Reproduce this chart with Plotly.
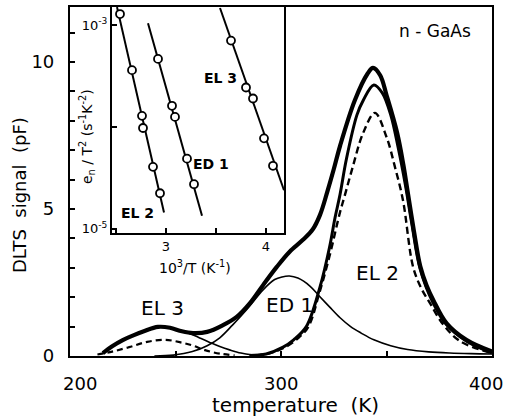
import plotly.graph_objects as go

# ---------------- main panel data (DLTS spectra) ----------------
T_meas = [215.6, 220, 225, 230, 235, 241.7, 247.4, 253, 258.3, 265, 272.5, 279, 285.3, 291.5,
          298, 304, 310.4, 315, 318.5, 322, 325, 328, 335, 341, 343.6, 347, 350.1, 355, 358, 360,
          363, 366, 369, 372.2, 378.5, 388, 400]
S_meas = [0.10, 0.33, 0.54, 0.70, 0.84, 0.99, 0.96, 0.84, 0.78, 0.82, 1.05, 1.33, 1.80, 2.41,
          3.03, 3.54, 3.95, 4.3, 4.8, 5.6, 6.35, 7.15, 8.7, 9.6, 9.8, 9.55, 8.85, 7.6, 6.5, 5.6,
          4.25, 3.05, 2.4, 1.90, 1.11, 0.54, 0.15]

T_el2 = [285, 293, 301, 306, 312, 318.5, 323, 325.6, 328, 331, 336, 339, 344, 348, 352, 355.5,
         359, 362, 366, 372, 378.5, 388, 400]
S_el2 = [0.02, 0.07, 0.30, 0.55, 1.0, 2.35, 3.7, 4.7, 5.5, 6.7, 8.2, 8.7, 9.22, 8.95, 8.2, 7.1,
         5.8, 4.5, 2.95, 1.82, 1.06, 0.5, 0.1]

T_el2d = [288, 295, 302, 308, 313, 318, 323, 328, 330, 334, 338.9, 344.5, 350, 354, 357.8,
          362.6, 366.5, 370.6, 376.8, 385, 400]
S_el2d = [0.02, 0.1, 0.3, 0.6, 1.0, 2.1, 3.4, 4.9, 5.4, 6.43, 7.58, 8.27, 7.45, 6.43, 5.3,
          3.03, 2.3, 1.8, 1.08, 0.5, 0.1]

T_ed1 = [240, 249, 258, 265, 271, 277, 284, 291.5, 297, 300.5, 304, 308, 313.7, 318, 323, 328,
         333, 338, 344, 352, 360, 370, 380, 390, 400]
S_ed1 = [0.0, 0.03, 0.15, 0.35, 0.62, 1.05, 1.6, 2.25, 2.6, 2.69, 2.72, 2.65, 2.38, 2.05, 1.67,
         1.3, 1.0, 0.78, 0.55, 0.35, 0.22, 0.14, 0.1, 0.08, 0.07]

T_el3 = [215.6, 220, 225, 230, 235, 241.7, 247.4, 253, 257, 261, 266, 271, 276, 281, 286, 292]
S_el3 = [0.10, 0.33, 0.54, 0.70, 0.84, 0.99, 0.96, 0.86, 0.76, 0.63, 0.47, 0.32, 0.2, 0.1, 0.04, 0.01]

T_el3d = [213, 220, 228, 236.5, 245, 252, 258, 264, 271, 278]
S_el3d = [0.05, 0.15, 0.30, 0.48, 0.55, 0.47, 0.36, 0.2, 0.08, 0.02]

# ---------------- inset data (Arrhenius plot) ----------------
el2_x = [2.54, 2.66, 2.76, 2.77, 2.87, 2.94]
el2_y = [1.29e-3, 3.63e-4, 1.29e-4, 9.8e-5, 4.07e-5, 2.24e-5]
el2_fit_x = [2.51, 2.98]
el2_fit_y = [1.51e-3, 1.45e-5]

ed1_x = [2.92, 3.06, 3.09, 3.21, 3.28]
ed1_y = [4.68e-4, 1.62e-4, 1.26e-4, 4.9e-5, 2.75e-5]
ed1_fit_x = [2.82, 3.36]
ed1_fit_y = [1.05e-3, 1.35e-5]

el3_x = [3.65, 3.80, 3.87, 3.98, 4.07]
el3_y = [7.08e-4, 2.45e-4, 1.91e-4, 7.76e-5, 4.17e-5]
el3_fit_x = [3.54, 4.18]
el3_fit_y = [1.48e-3, 2.4e-5]

main_xticks = [200, 250, 300, 350, 400]
main_xlabels = ["200", "300", "400"]
main_yticks = list(range(0, 12))
main_yticktext = ["0", "", "", "", "", "5", "", "", "", "", "10", ""]
inset_xticks = [2.5, 3, 3.5, 4]
inset_xticktext = ["", "3", "", "4"]
inset_yticks = [1e-3, 1e-4, 1e-5]
inset_yticktext = ["10<sup>-3</sup>", "", "10<sup>-5</sup>"]

FONT = "DejaVu Sans"
fig = go.Figure()

def add_main(x, y, width, dash="solid"):
    fig.add_trace(go.Scatter(x=x, y=y, mode="lines", xaxis="x", yaxis="y",
                             line=dict(color="black", width=width, dash=dash, shape="spline", smoothing=1.0),
                             showlegend=False, hoverinfo="skip"))

add_main(T_el3d, S_el3d, 2.2, "6px,4px")
add_main(T_el2d, S_el2d, 2.4, "7px,4px")
add_main(T_el3, S_el3, 1.6)
add_main(T_ed1, S_ed1, 1.6)
add_main(T_el2, S_el2, 3.0)
add_main(T_meas, S_meas, 4.2)

def add_inset(fx, fy, px, py):
    fig.add_trace(go.Scatter(x=fx, y=fy, mode="lines", xaxis="x2", yaxis="y2",
                             line=dict(color="black", width=2), showlegend=False, hoverinfo="skip"))
    fig.add_trace(go.Scatter(x=px, y=py, mode="markers", xaxis="x2", yaxis="y2",
                             marker=dict(symbol="circle", size=8, color="white",
                                         line=dict(color="black", width=1.8)),
                             showlegend=False, hoverinfo="skip"))

add_inset(el2_fit_x, el2_fit_y, el2_x, el2_y)
add_inset(ed1_fit_x, ed1_fit_y, ed1_x, ed1_y)
add_inset(el3_fit_x, el3_fit_y, el3_x, el3_y)

px0, pw = 70, 422
py0, ph = 356, 349
def PX(x):
    return (x - px0) / pw
def PY(y):
    return (py0 - y) / ph

fig.update_layout(
    width=509, height=419,
    margin=dict(l=70, r=17, t=7, b=63, autoexpand=False),
    paper_bgcolor="white", plot_bgcolor="white",
    font=dict(family=FONT, color="black", size=18),
    xaxis=dict(range=[200, 400], domain=[0, 1], showline=True, linecolor="black", linewidth=2.2,
               mirror=True, showgrid=False, zeroline=False, automargin=False,
               tickvals=main_xticks, showticklabels=False, ticks="inside", ticklen=5,
               tickwidth=1.5, tickcolor="black"),
    yaxis=dict(range=[0, 11.87], domain=[0, 1], showline=True, linecolor="black", linewidth=2.2,
               mirror=True, showgrid=False, zeroline=False, automargin=False,
               tickvals=main_yticks, ticktext=main_yticktext, ticks="inside", ticklen=5,
               tickwidth=1.5, tickcolor="black", ticklabelstandoff=10,
               tickfont=dict(size=18, family=FONT)),
    xaxis2=dict(range=[2.46, 4.18], domain=[PX(112), PX(284)], anchor="y2",
                showline=True, linecolor="black", linewidth=2, mirror=True, automargin=False,
                showgrid=False, zeroline=False, tickvals=inset_xticks, ticktext=inset_xticktext,
                ticks="inside", ticklen=5, tickwidth=1.5, tickcolor="black",
                tickfont=dict(size=13, family=FONT)),
    yaxis2=dict(type="log", range=[-5.04, -2.82], domain=[PY(233), 1], anchor="x2",
                showline=True, linecolor="black", linewidth=2, mirror=True, automargin=False,
                showgrid=False, zeroline=False, tickvals=inset_yticks, ticktext=inset_yticktext,
                ticks="inside", ticklen=5, tickwidth=1.5, tickcolor="black",
                tickfont=dict(size=13, family=FONT)),
)

def ann(text, x, y, size, angle=0, bold=False):
    fig.add_annotation(text=("<b>%s</b>" % text) if bold else text, x=PX(x), y=PY(y),
                       xref="paper", yref="paper", showarrow=False, textangle=angle,
                       font=dict(family=FONT, size=size, color="black"),
                       xanchor="center", yanchor="middle")

# main x tick labels (placed like the original, 200 and 400 pulled inward)
for lab, xpos in zip(main_xlabels, [80, 281, 486]):
    ann(lab, xpos, 383, 18)

ann("DLTS  signal  (pF)", 19, 195, 18, -90)
ann("temperature  (K)", 295, 405, 20)
ann("n - GaAs", 435, 31, 17)
ann("EL 3", 162, 308, 20)
ann("ED 1", 289, 305, 20)
ann("EL 2", 377, 273, 20)
ann("EL 3", 220, 78, 14, bold=True)
ann("ED 1", 211, 164, 14, bold=True)
ann("EL 2", 137, 213, 14, bold=True)
ann("10<sup>3</sup>/T (K<sup>-1</sup>)", 195, 267, 14)
ann("e<sub>n</sub> / T<sup>2</sup> (s<sup>-1</sup>K<sup>-2</sup>)", 87, 137, 14, -90)

fig.write_html("out.html")
